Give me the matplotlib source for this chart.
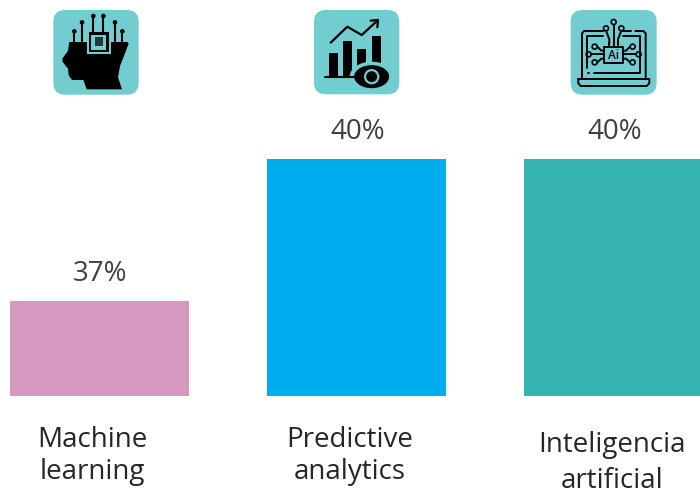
import matplotlib
matplotlib.use('Agg')
from matplotlib import pyplot as plt
from matplotlib.patches import FancyBboxPatch, Rectangle, Circle, Polygon, Ellipse

categories = ['Machine\nlearning', 'Predictive\nanalytics', 'Inteligencia\nartificial']
values = [37, 40, 40]
value_labels = ['37%', '40%', '40%']
bar_colors = ['#D598BF', '#00AEEF', '#36B4B4']

TEAL = '#72CDD0'
plt.rcParams['font.family'] = ['Open Sans', 'DejaVu Sans']

fig = plt.figure(figsize=(7, 4.91), dpi=100)
# the bars' axes stops at the baseline, y starts at 35 like in the original
ax = fig.add_axes([0, 95 / 491, 1, 396 / 491])
ax.bar(range(3), values, width=179 / 257, color=bar_colors)
ax.set_xlim(-99.5 / 257, 600.5 / 257)
ax.set_ylim(35, 35 + 396 / 47.33)
ax.axis('off')

# value labels sit above the bars
for i, v in enumerate(values):
    ax.text(i + 0.004, v + 0.58, value_labels[i], ha='center', va='center',
            fontsize=20, color='#404040')

# overlay in pixels for the icons and the category labels
ov = fig.add_axes([0, 0, 1, 1])
ov.set_xlim(0, 700)
ov.set_ylim(491, 0)
ov.axis('off')
ov.patch.set_alpha(0)

label_pos = [(92, 456), (350, 456), (612, 463)]
label_gap = [1.2, 1.2, 1.39]
for c, (x, y), g in zip(categories, label_pos, label_gap):
    ov.text(x, y, c, ha='center', va='center', fontsize=20, color='#262626',
            linespacing=g)


def zoomed(ox):
    return lambda zx, zy: (ox + zx / 3, zy / 3)


def tile(p, x0, y0, x1, y1):
    a, b = p(x0, y0), p(x1, y1)
    ov.add_patch(FancyBboxPatch((a[0] + 12, a[1] + 12), b[0] - a[0] - 24, b[1] - a[1] - 24,
                                boxstyle='round,pad=12,rounding_size=12', fc=TEAL, ec='none'))


def rect(p, x0, y0, x1, y1, fc='black', ec='none', lw=0):
    a, b = p(x0, y0), p(x1, y1)
    ov.add_patch(Rectangle(a, b[0] - a[0], b[1] - a[1], fc=fc, ec=ec, lw=lw))


def line(p, pts, lw=1.4, color='black'):
    xy = [p(*q) for q in pts]
    ov.plot([q[0] for q in xy], [q[1] for q in xy], color=color, lw=lw,
            solid_capstyle='round', solid_joinstyle='round')


def dot(p, x, y, r, fc='black', ec='none', lw=0):
    ov.add_patch(Circle(p(x, y), r, fc=fc, ec=ec, lw=lw))


# brain icon
p = zoomed(40)
tile(p, 40, 30, 296, 284)
head = [(88, 126), (262, 126), (266, 130), (252, 168), (240, 198), (234, 232), (246, 268),
        (140, 268), (130, 240), (96, 240), (86, 226), (84, 206), (68, 186), (67, 176),
        (84, 152)]
ov.add_patch(Polygon([p(*q) for q in head], fc='black', ec='none'))
rect(p, 140, 120, 212, 162, fc=TEAL)
rect(p, 146, 96, 206, 157)
rect(p, 153, 104, 199, 150, fc=TEAL)
rect(p, 164, 112, 189, 138, fc='#22393a')
for x, y, y1 in [(103, 94, 126), (126, 67, 126), (160, 48, 96), (190, 48, 96), (225, 67, 126), (247, 94, 126)]:
    line(p, [(x, y), (x, y1)], lw=1.5)
    dot(p, x, y, 2.3)

# analytics icon
p = zoomed(300)
tile(p, 42, 30, 298, 283)
rect(p, 88, 158, 113, 230)
rect(p, 130, 123, 157, 230)
rect(p, 172, 147, 198, 210)
rect(p, 215, 107, 242, 190)
line(p, [(74, 231), (172, 231)], lw=1.5)
line(p, [(92, 128), (142, 80), (185, 105), (232, 62)], lw=1.6)
line(p, [(212, 62), (234, 60), (232, 82)], lw=1.6)
ov.add_patch(Ellipse(p(215, 230), 44, 30, fc=TEAL, ec='none'))
ov.add_patch(Ellipse(p(215, 230), 35, 23, fc='black', ec='none'))
dot(p, 215, 230, 6.6, fc='black', ec=TEAL, lw=1.6)

# laptop icon
p = zoomed(560)
tile(p, 32, 30, 290, 284)
line(p, [(66, 232), (66, 100), (72, 93), (130, 93)])
line(p, [(188, 93), (212, 93)])
line(p, [(226, 93), (250, 93), (257, 100), (257, 232)])
line(p, [(82, 205), (82, 108), (130, 108)])
line(p, [(190, 108), (241, 108), (241, 218), (102, 218)])
line(p, [(84, 218), (88, 218)])
line(p, [(55, 237), (268, 237), (268, 250), (260, 258), (62, 258), (55, 250), (55, 237)])
line(p, [(132, 142), (190, 142), (190, 188), (132, 188), (132, 142)])
line(p, [(148, 130), (148, 142)])
line(p, [(161, 75), (161, 142)])
line(p, [(174, 130), (174, 142)])
line(p, [(138, 92), (148, 118), (148, 130)])
line(p, [(184, 92), (174, 118), (174, 130)])
for x, y in [(161, 66), (138, 85), (184, 85), (104, 140), (86, 163), (104, 187), (218, 140), (236, 163), (218, 187)]:
    dot(p, x, y, 2.5, fc=TEAL, ec='black', lw=1.2)
line(p, [(112, 140), (124, 152), (132, 152)])
line(p, [(94, 163), (132, 163)])
line(p, [(112, 187), (124, 176), (132, 176)])
line(p, [(210, 140), (198, 152), (190, 152)])
line(p, [(228, 163), (190, 163)])
line(p, [(210, 187), (198, 176), (190, 176)])
ov.text(*p(161, 165), 'Ai', ha='center', va='center', fontsize=8.5, color='black', fontweight='semibold')

plt.savefig('out.png', dpi=100)
